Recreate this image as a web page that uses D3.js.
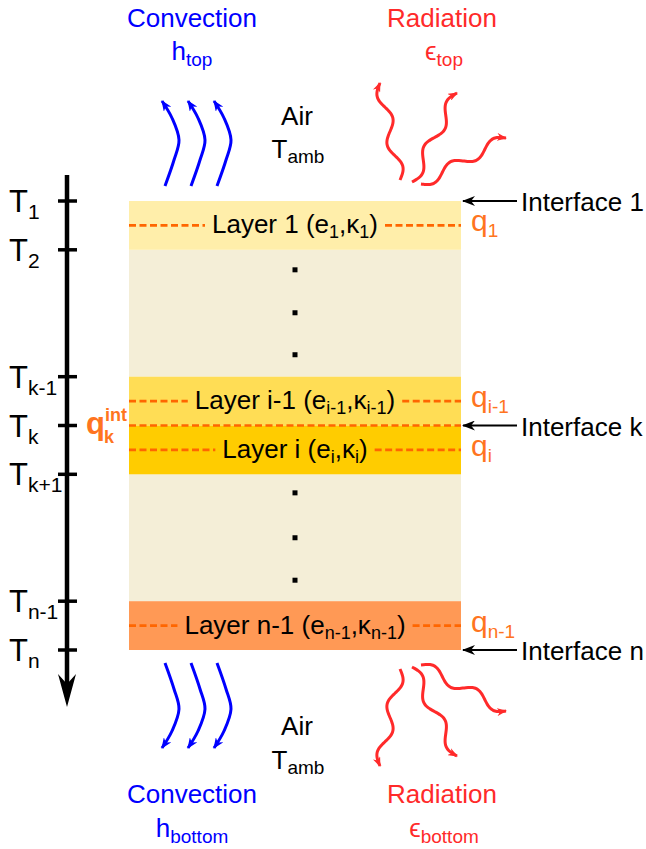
<!DOCTYPE html>
<html><head><meta charset="utf-8">
<script src="https://cdn.jsdelivr.net/npm/d3@7"></script>
<style>
body{margin:0;background:#fff}
svg{display:block}
text{font-family:"Liberation Sans",Arial,Helvetica,sans-serif}
</style>
</head><body>
<svg id="c" width="646" height="849"></svg>
<script>
// ---- data ----
const interfaceNames = ["1","2","k-1","k","k+1","n-1","n"];
const interfaceDepth = [0, 1, 3.6, 4.6, 5.6, 8.2, 9.2];      // in layer-thickness units
const labeledInterfaces = ["1","k","n"];
const layerNames = ["1","i-1","i","n-1"];
const layerTop = [0, 3.6, 4.6, 8.2];
const layerBottom = [1, 4.6, 5.6, 9.2];
const fillerTop = [1, 5.6];
const fillerBottom = [3.6, 8.2];
const dotDepth = [1.41, 2.29, 3.15, 5.98, 6.9, 7.77];
const convectionLabels = ["top","bottom"];
const radiationLabels = ["top","bottom"];

// ---- styles ----
const layerColor = d3.scaleOrdinal().domain(layerNames).range(["#ffeeaa","#ffdd55","#ffcc00","#ff9955"]);
const fillerColor = "#f4eed7";
const orange = "#ff6600", qOrange = "#ff7420", blue = "#0000ff", red = "#ff2a2a";

const svg = d3.select("#c");
const y = d3.scaleLinear().domain([0, 9.2]).range([201, 650]);
const x = d3.scaleLinear().domain([0, 1]).range([129, 461]);
const xc = x(0.5);

const defs = svg.append("defs");
function marker(id, color, len, w) {
  defs.append("marker").attr("id", id).attr("viewBox", `0 ${-w} ${len} ${2*w}`)
    .attr("markerUnits","userSpaceOnUse").attr("markerWidth", len).attr("markerHeight", 2*w)
    .attr("refX", len - 1).attr("refY", 0).attr("orient","auto")
    .append("path").attr("d", `M0,${-w} L${len},0 L0,${w} L${len*0.3},0 Z`).attr("fill", color);
}
marker("ab", blue, 11, 4.5);
marker("ar", red, 10, 4);
marker("ak", "#000", 13, 5);

function rich(sel, px, py, parts, o) {
  const t = sel.append("text").attr("x", px).attr("y", py)
    .attr("font-size", o.size).attr("text-anchor", o.anchor || "start")
    .attr("fill", o.color || "#000").attr("font-weight", o.weight || "normal");
  let shift = 0;
  parts.forEach(p => {
    const isSub = Array.isArray(p);
    const str = isSub ? p[0] : p;
    const target = isSub ? o.shift : 0;
    const ts = t.append("tspan").text(str).attr("dy", target - shift);
    if (isSub) ts.attr("font-size", o.sub);
    shift = target;
  });
  return t;
}

// ---- layers ----
const g = svg.append("g");
g.selectAll("rect.f").data(fillerTop).join("rect").attr("class","f")
  .attr("x", x(0)).attr("width", x(1) - x(0))
  .attr("y", d => y(d)).attr("height", (d, i) => y(fillerBottom[i]) - y(d))
  .attr("fill", fillerColor);
g.selectAll("rect.l").data(layerNames).join("rect").attr("class","l")
  .attr("x", x(0)).attr("width", x(1) - x(0))
  .attr("y", (d, i) => y(layerTop[i])).attr("height", (d, i) => y(layerBottom[i]) - y(layerTop[i]))
  .attr("fill", d => layerColor(d));

g.selectAll("rect.dot").data(dotDepth).join("rect").attr("class","dot")
  .attr("x", xc - 2.5).attr("y", d => y(d) - 2.5).attr("width", 5).attr("height", 5).attr("fill", "#000");

// interface k dashed line
const kD = interfaceDepth[interfaceNames.indexOf("k")];
g.append("line").attr("x1", x(0)).attr("x2", x(1)).attr("y1", y(kD)).attr("y2", y(kD))
  .attr("stroke", orange).attr("stroke-width", 2.6).attr("stroke-dasharray", "7,3.5");

layerNames.forEach((n, i) => {
  const cy = (y(layerTop[i]) + y(layerBottom[i])) / 2;
  const t = rich(g, xc, cy + 8, ["Layer " + n + " (e", [n], ",κ", [n], ")"],
    {size: 26, sub: 18, shift: 5, anchor: "middle"});
  const bb = t.node().getBBox();
  [[x(0), bb.x - 7], [bb.x + bb.width + 7, x(1)]].forEach(s => {
    g.append("line").attr("x1", s[0]).attr("x2", s[1]).attr("y1", cy).attr("y2", cy)
      .attr("stroke", orange).attr("stroke-width", 2.6).attr("stroke-dasharray", "7,3.5");
  });
  rich(g, 471, cy + 6, ["q", [n]], {size: 30, sub: 19, shift: 6, color: qOrange});
});

// ---- temperature axis ----
const ax = 67;
svg.append("line").attr("x1", ax).attr("x2", ax).attr("y1", 175).attr("y2", 690)
  .attr("stroke", "#000").attr("stroke-width", 4.5);
svg.append("path").attr("d", `M${ax},707 L${ax-9},674 L${ax},684 L${ax+9},674 Z`).attr("fill", "#000");
interfaceNames.forEach((n, i) => {
  const ty = y(interfaceDepth[i]);
  svg.append("line").attr("x1", ax - 9).attr("x2", ax + 10).attr("y1", ty).attr("y2", ty)
    .attr("stroke", "#000").attr("stroke-width", 3.5);
  rich(svg, 9, ty + 11, ["T", [n]], {size: 31, sub: 21, shift: 7});
});

// q_k^int
svg.append("text").attr("x", 86).attr("y", y(kD) + 8).attr("font-size", 31).attr("font-weight", "bold")
  .attr("fill", qOrange).text("q");
svg.append("text").attr("x", 105).attr("y", y(kD) - 5).attr("font-size", 18).attr("font-weight", "bold")
  .attr("fill", qOrange).text("int");
svg.append("text").attr("x", 104).attr("y", y(kD) + 17).attr("font-size", 18).attr("font-weight", "bold")
  .attr("fill", qOrange).text("k");

// interface arrows
labeledInterfaces.forEach(n => {
  const ty = y(interfaceDepth[interfaceNames.indexOf(n)]);
  svg.append("line").attr("x1", 517).attr("x2", 463).attr("y1", ty).attr("y2", ty)
    .attr("stroke", "#000").attr("stroke-width", 2).attr("marker-end", "url(#ak)");
  svg.append("text").attr("x", 521).attr("y", ty + 10).attr("font-size", 26).text("Interface " + n);
});

// ---- convection & radiation arrows (top, and mirrored at bottom) ----
function wave(x0, y0, x1, y1, amp, periods) {
  const dx = x1 - x0, dy = y1 - y0, L = Math.hypot(dx, dy);
  const nx = -dy / L, ny = dx / L;
  return d3.range(0, 1.0001, 0.02).map(t => {
    const o = amp * Math.sin(2 * Math.PI * periods * t);
    return [x0 + dx * t + nx * o, y0 + dy * t + ny * o];
  });
}
const line = d3.line().curve(d3.curveCatmullRom);
function drawArrows(sel) {
  [165, 191, 217].forEach(x0 => {
    sel.append("path").attr("d", line([[x0, 186], [x0 + 9, 160], [x0 + 14, 140], [x0 + 7, 118], [x0 - 3, 101]]))
      .attr("fill", "none").attr("stroke", blue).attr("stroke-width", 3).attr("marker-end", "url(#ab)");
  });
  [[400, 180, 380, 83], [412, 182, 457, 93], [421, 184, 506, 138]].forEach(w => {
    sel.append("path").attr("d", line(wave(w[0], w[1], w[2], w[3], 5.5, 2)))
      .attr("fill", "none").attr("stroke", red).attr("stroke-width", 3).attr("marker-end", "url(#ar)");
  });
}
drawArrows(svg.append("g"));
drawArrows(svg.append("g").attr("transform", "translate(0,849) scale(1,-1)"));

// ---- surrounding text ----
function sideTexts(yConv, yH, yAir, yT, which) {
  svg.append("text").attr("x", 192).attr("y", yConv).attr("font-size", 26).attr("text-anchor", "middle")
    .attr("fill", blue).text("Convection");
  rich(svg, 192, yH, ["h", [which]], {size: 26, sub: 19, shift: 6, anchor: "middle", color: blue});
  svg.append("text").attr("x", 442).attr("y", yConv).attr("font-size", 26).attr("text-anchor", "middle")
    .attr("fill", red).text("Radiation");
  rich(svg, 444, yH, ["ϵ", [which]], {size: 26, sub: 19, shift: 6, anchor: "middle", color: red});
  svg.append("text").attr("x", 297).attr("y", yAir).attr("font-size", 26).attr("text-anchor", "middle").text("Air");
  rich(svg, 298, yT, ["T", ["amb"]], {size: 26, sub: 19, shift: 5, anchor: "middle"});
}
sideTexts(27, 60, 125, 158, convectionLabels[0]);
sideTexts(803, 837, 735, 769, convectionLabels[1]);
</script>
</body></html>
